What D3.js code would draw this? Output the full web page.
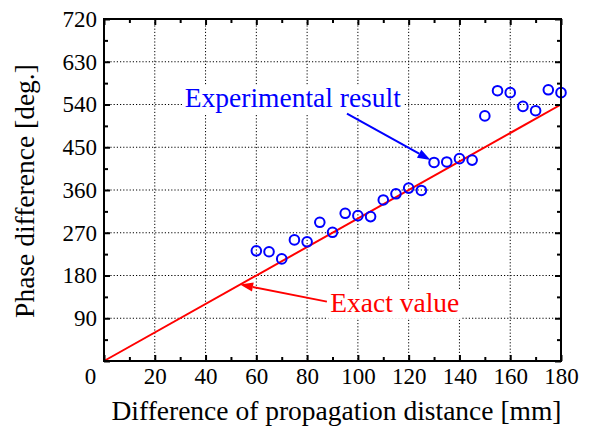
<!DOCTYPE html>
<html>
<head>
<meta charset="utf-8">
<script src="https://cdn.jsdelivr.net/npm/d3@7"></script>
<style>
  body { margin: 0; background: #fff; }
  svg { display: block; }
</style>
</head>
<body>
<svg width="596" height="429"></svg>
<script>
// measured points
const distance = [60, 65, 70, 75, 80, 85, 90, 95, 100, 105, 110, 115, 120,
  125, 130, 135, 140, 145, 150, 155, 160, 165, 170, 175, 180];
const phase = [232, 230, 215, 255, 251, 292, 271, 311, 306, 304, 339, 352, 364,
  359, 418, 419, 426, 423, 516, 569, 565, 536, 527, 571, 565];

// exact value line (3 deg per mm)
const exactX = [0, 180];
const exactY = [0, 540];

const xMajor = d3.range(0, 181, 20);
const xMinor = d3.range(10, 180, 20);
const yMajor = d3.range(0, 721, 90);
const yMinor = d3.range(45, 720, 90);

// annotations in data units: [x, y]
const expLabel = {text: 'Experimental result', at: [31.8, 535]};
const expArrow = [[95.7, 521], [128.6, 423]];
const exactLabel = {text: 'Exact value', at: [89.1, 103.5]};
const exactArrow = [[87.8, 125], [53.6, 161]];

const FONT = '"Liberation Serif"';

function serif(sel, size) {
  return sel.attr('font-family', 'Liberation Serif')
    .style('font-family', FONT)
    .style('font-size', size + 'px');
}

const svg = d3.select('svg');
const margin = {top: 19, right: 35, bottom: 68, left: 104};
const width = +svg.attr('width') - margin.left - margin.right;
const height = +svg.attr('height') - margin.top - margin.bottom;
const g = svg.append('g')
  .attr('transform', `translate(${margin.left},${margin.top})`);

const x = d3.scaleLinear().domain([0, 180]).range([0, width]);
const y = d3.scaleLinear().domain([0, 720]).range([height, 0]);

// grid
const grid = g.append('g')
  .attr('stroke', '#000')
  .attr('stroke-width', 1)
  .attr('stroke-dasharray', '1.2,2');
grid.selectAll('.gx')
  .data(xMajor.slice(1, -1))
  .enter().append('line')
    .attr('x1', d => x(d)).attr('x2', d => x(d))
    .attr('y1', 0).attr('y2', height);
grid.selectAll('.gy')
  .data(yMajor.slice(1, -1))
  .enter().append('line')
    .attr('y1', d => y(d)).attr('y2', d => y(d))
    .attr('x1', 0).attr('x2', width);

// exact line
g.append('path')
  .datum(d3.zip(exactX, exactY))
  .attr('fill', 'none')
  .attr('stroke', '#ff0000')
  .attr('stroke-width', 2)
  .attr('d', d3.line().x(d => x(d[0])).y(d => y(d[1])));

function label(l, color) {
  const t = g.append('text')
    .attr('x', x(l.at[0]))
    .attr('y', y(l.at[1]))
    .attr('fill', color)
    .text(l.text)
    .call(serif, 27.5);
  const b = t.node().getBBox();
  g.insert('rect', () => t.node())
    .attr('x', b.x - 2).attr('y', b.y + 3)
    .attr('width', b.width + 4).attr('height', b.height - 2)
    .attr('fill', '#fff');
}

function arrow(pts, color) {
  const [x0, y0] = [x(pts[0][0]), y(pts[0][1])];
  const [x1, y1] = [x(pts[1][0]), y(pts[1][1])];
  const a = Math.atan2(y1 - y0, x1 - x0);
  const len = 13, half = 4.5;
  const bx = x1 - len * Math.cos(a), by = y1 - len * Math.sin(a);
  g.append('line')
    .attr('x1', x0).attr('y1', y0).attr('x2', bx).attr('y2', by)
    .attr('stroke', color).attr('stroke-width', 2);
  g.append('path')
    .attr('fill', color)
    .attr('d', `M${x1},${y1}L${bx - half * Math.sin(a)},${by + half * Math.cos(a)}` +
      `L${bx + half * Math.sin(a)},${by - half * Math.cos(a)}Z`);
}

label(expLabel, '#0000ff');
label(exactLabel, '#ff0000');
arrow(expArrow, '#0000ff');
arrow(exactArrow, '#ff0000');

// measured circles
g.selectAll('.pt')
  .data(d3.zip(distance, phase))
  .enter().append('circle')
    .attr('cx', d => x(d[0]))
    .attr('cy', d => y(d[1]))
    .attr('r', 4.8)
    .attr('fill', 'none')
    .attr('stroke', '#0000ff')
    .attr('stroke-width', 2);

// ticks, all pointing inward
const ticks = g.append('g');
[[xMajor, 6], [xMinor, 4]].forEach(([v, s]) => {
  ticks.append('g').attr('transform', `translate(0,${height})`)
    .call(d3.axisBottom(x).tickValues(v).tickSize(-s).tickFormat(''));
  ticks.append('g')
    .call(d3.axisTop(x).tickValues(v).tickSize(-s).tickFormat(''));
});
[[yMajor, 6], [yMinor, 4]].forEach(([v, s]) => {
  ticks.append('g')
    .call(d3.axisLeft(y).tickValues(v).tickSize(-s).tickFormat(''));
  ticks.append('g').attr('transform', `translate(${width},0)`)
    .call(d3.axisRight(y).tickValues(v).tickSize(-s).tickFormat(''));
});
ticks.selectAll('path').remove();
ticks.selectAll('line').attr('stroke-width', 2);

g.append('rect')
  .attr('width', width).attr('height', height)
  .attr('fill', 'none').attr('stroke', '#000').attr('stroke-width', 2);

// tick labels
const xl = g.append('g')
  .attr('transform', `translate(0,${height})`)
  .call(d3.axisBottom(x).tickValues(xMajor.slice(1)).tickSize(0).tickPadding(7));
const yl = g.append('g')
  .call(d3.axisLeft(y).tickValues(yMajor.slice(1)).tickSize(0).tickPadding(7));
[xl, yl].forEach(a => {
  a.attr('font-family', 'Liberation Serif').attr('font-size', 23);
  a.select('.domain').remove();
  a.selectAll('text').attr('fill', '#000').call(serif, 23);
});
g.append('text')
  .attr('x', x(0) - 13.5)
  .attr('y', y(0) + 23)
  .attr('text-anchor', 'middle')
  .text('0')
  .call(serif, 23);

// axis titles
svg.append('text')
  .attr('x', margin.left + width / 2 + 4)
  .attr('y', 420)
  .attr('text-anchor', 'middle')
  .text('Difference of propagation distance [mm]')
  .call(serif, 27.5);
svg.append('text')
  .attr('transform', `translate(34,${margin.top + height / 2 + 1}) rotate(-90)`)
  .attr('text-anchor', 'middle')
  .text('Phase difference [deg.]')
  .call(serif, 27.5);
</script>
</body>
</html>
